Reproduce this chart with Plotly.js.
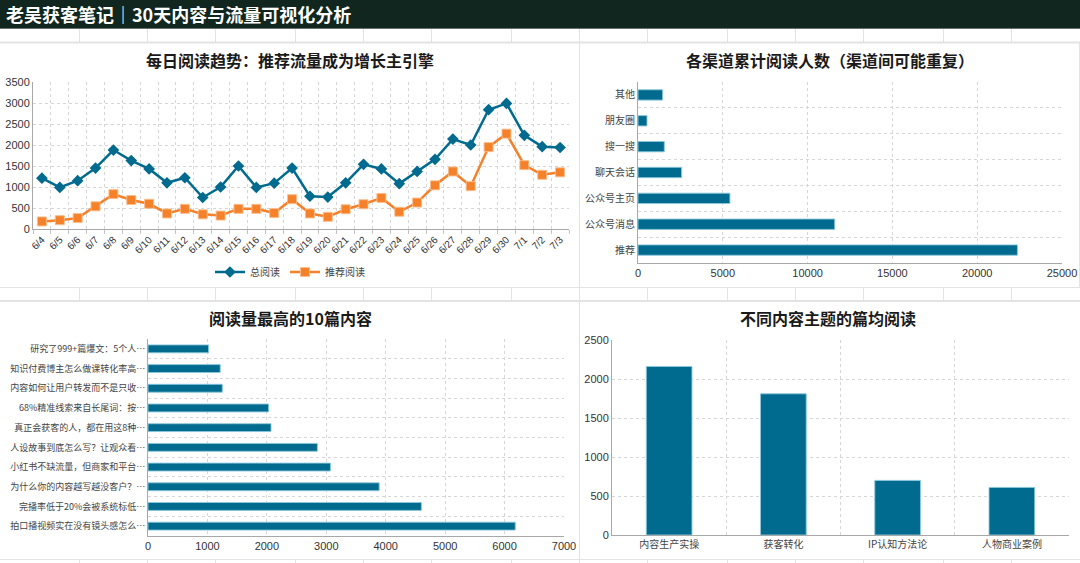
<!DOCTYPE html>
<html>
<head>
<meta charset="utf-8">
<script src="https://cdn.plot.ly/plotly-3.0.1.min.js"></script>
<style>
  html, body { margin: 0; padding: 0; background: #ffffff; }
  #chart { width: 1080px; height: 563px; }
</style>
</head>
<body>
<div id="chart"></div>
<script>
// ---- Data ----
const days = ['6/4','6/5','6/6','6/7','6/8','6/9','6/10','6/11','6/12','6/13','6/14','6/15','6/16','6/17','6/18',
              '6/19','6/20','6/21','6/22','6/23','6/24','6/25','6/26','6/27','6/28','6/29','6/30','7/1','7/2','7/3'];
const totalReads = [1210, 990, 1150, 1450, 1880, 1630, 1430, 1100, 1220, 750, 1000, 1500, 990, 1090, 1450,
                    780, 760, 1100, 1540, 1430, 1080, 1370, 1660, 2140, 2000, 2840, 2990, 2230, 1960, 1940];
const recReads = [180, 210, 260, 540, 830, 690, 600, 370, 480, 350, 320, 480, 480, 380, 710,
                  370, 290, 470, 590, 740, 410, 630, 1040, 1370, 1020, 1950, 2270, 1520, 1290, 1350];

const channels = ['推荐', '公众号消息', '公众号主页', '聊天会话', '搜一搜', '朋友圈', '其他'];
const channelReads = [22370, 11600, 5420, 2570, 1550, 530, 1450];

const articles = ['拍口播视频实在没有镜头感怎么…', '完播率低于20%会被系统标低…', '为什么你的内容越写越没客户？…',
                  '小红书不缺流量，但商家和平台…', '人设故事到底怎么写？让观众看…', '真正会获客的人，都在用这8种…',
                  '68%精准线索来自长尾词：按…', '内容如何让用户转发而不是只收…', '知识付费博主怎么做课转化率高…',
                  '研究了999+篇爆文：5个人…'];
const articleReads = [6180, 4600, 3890, 3070, 2850, 2070, 2030, 1250, 1215, 1020];

const topics = ['内容生产实操', '获客转化', 'IP认知方法论', '人物商业案例'];
const topicAvg = [2160, 1810, 700, 610];

// ---- Styling helpers ----
const W = 1080, H = 563;
const px = x => x / W;
const py = y => 1 - y / H;

const BLUE = '#006b8e';
const ORANGE = '#f5812b';
const GRID = '#d6d6d6';
const AXIS = '#a8a8a8';
const DASH = '3px,3px';
const FONT = 'Liberation Sans, Arial, Noto Sans CJK SC, sans-serif';
const CJK = 'Noto Sans CJK SC, Liberation Sans, sans-serif';

function valueAxis(extra) {
  return Object.assign({
    showgrid: true, gridcolor: GRID, griddash: DASH, gridwidth: 1,
    zeroline: false, showline: true, linecolor: AXIS, linewidth: 1,
    ticks: '', tickformat: 'd', exponentformat: 'none',
    tickfont: { family: FONT, size: 11, color: '#333' },
    fixedrange: true
  }, extra);
}
function categoryAxis(extra) {
  return Object.assign({
    type: 'category', tickson: 'boundaries',
    showgrid: true, gridcolor: GRID, griddash: DASH, gridwidth: 1,
    zeroline: false, showline: true, linecolor: AXIS, linewidth: 1,
    ticks: 'outside', ticklen: 4, tickcolor: '#c4c4c4',
    tickfont: { family: CJK, size: 10, color: '#444' },
    fixedrange: true
  }, extra);
}

const barLine = { color: 'rgba(140,200,220,0.9)', width: 1 };

// ---- Traces ----
const traces = [
  {
    type: 'scatter', mode: 'lines+markers', name: '总阅读',
    x: days, y: totalReads, xaxis: 'x', yaxis: 'y',
    line: { color: BLUE, width: 2.5 },
    marker: { symbol: 'diamond', size: 9, color: BLUE }
  },
  {
    type: 'scatter', mode: 'lines+markers', name: '推荐阅读',
    x: days, y: recReads, xaxis: 'x', yaxis: 'y',
    line: { color: ORANGE, width: 2.5 },
    marker: { symbol: 'square', size: 9, color: ORANGE, line: { color: 'rgba(250,190,140,0.9)', width: 1 } }
  },
  {
    type: 'bar', orientation: 'h', showlegend: false,
    x: channelReads, y: channels, xaxis: 'x2', yaxis: 'y2',
    marker: { color: BLUE, line: barLine }
  },
  {
    type: 'bar', orientation: 'h', showlegend: false,
    x: articleReads, y: articles, xaxis: 'x3', yaxis: 'y3',
    marker: { color: BLUE, line: barLine }
  },
  {
    type: 'bar', showlegend: false,
    x: topics, y: topicAvg, xaxis: 'x4', yaxis: 'y4',
    marker: { color: BLUE, line: barLine }
  }
];

// ---- Sheet backdrop: header bar, cell strips and panel dividers ----
const shapes = [];
shapes.push({ type: 'rect', xref: 'paper', yref: 'paper', x0: 0, x1: 1, y0: py(28), y1: 1,
              fillcolor: '#10261f', line: { width: 0 }, layer: 'below' });
shapes.push({ type: 'line', xref: 'paper', yref: 'paper', x0: 0, x1: 1, y0: py(28.5), y1: py(28.5),
              line: { color: '#66736e', width: 1 }, layer: 'below' });
const hLines = [[42.5, 2], [287.5, 1], [301, 2], [559.5, 1]];
hLines.forEach(([y, w]) => shapes.push({
  type: 'line', xref: 'paper', yref: 'paper', x0: 0, x1: 1, y0: py(y), y1: py(y),
  line: { color: '#e3e3e3', width: w }, layer: 'below'
}));
const cols = [79, 147, 215, 295, 363, 431, 511, 647, 727, 795, 863, 943, 1011];
const strips = [[29, 42], [288, 301], [560, 563]];
strips.forEach(([a, b]) => cols.forEach(c => shapes.push({
  type: 'line', xref: 'paper', yref: 'paper', x0: px(c + 0.5), x1: px(c + 0.5), y0: py(a), y1: py(b),
  line: { color: '#e3e3e3', width: 1 }, layer: 'below'
})));
shapes.push({ type: 'line', xref: 'paper', yref: 'paper', x0: px(579.5), x1: px(579.5), y0: py(29), y1: 0,
              line: { color: '#e3e3e3', width: 1 }, layer: 'below' });
shapes.push({ type: 'line', xref: 'paper', yref: 'paper', x0: px(1079.5), x1: px(1079.5), y0: py(43), y1: py(287),
              line: { color: '#e3e3e3', width: 1 }, layer: 'below' });

// ---- Titles ----
function title(text, x, y) {
  return { text: text, xref: 'paper', yref: 'paper', x: px(x), y: py(y),
           xanchor: 'center', yanchor: 'middle', showarrow: false,
           font: { family: CJK, size: 16, color: '#1a1a1a', weight: 'bold' } };
}
const annotations = [
  { text: '老吴获客笔记｜30天内容与流量可视化分析', xref: 'paper', yref: 'paper', x: px(4), y: py(14),
    xanchor: 'left', yanchor: 'middle', showarrow: false,
    font: { family: CJK, size: 18, color: '#ffffff', weight: 'bold' } },
  title('每日阅读趋势：推荐流量成为增长主引擎', 290, 60),
  title('各渠道累计阅读人数（渠道间可能重复）', 830, 60),
  title('阅读量最高的10篇内容', 290, 318),
  title('不同内容主题的篇均阅读', 828, 318)
];

// ---- Layout ----
const layout = {
  width: W, height: H,
  margin: { l: 0, r: 0, t: 0, b: 0 },
  paper_bgcolor: '#ffffff', plot_bgcolor: 'rgba(0,0,0,0)',
  bargap: 0.6,
  showlegend: true,
  legend: { orientation: 'h', x: px(290), y: py(272), xanchor: 'center', yanchor: 'middle',
            font: { family: CJK, size: 10, color: '#444' }, itemwidth: 30, tracegroupgap: 0 },
  xaxis: categoryAxis({ domain: [px(33), px(569)], anchor: 'y', range: [-0.5, 29.5], tickangle: -45,
                        tickfont: { family: FONT, size: 10, color: '#333' } }),
  yaxis: valueAxis({ domain: [py(229), py(82)], anchor: 'x', range: [0, 3500], dtick: 500 }),
  xaxis2: valueAxis({ domain: [px(638), px(1062)], anchor: 'y2', range: [0, 25000], dtick: 5000 }),
  yaxis2: categoryAxis({ domain: [py(263), py(82)], anchor: 'x2', ticks: '' }),
  xaxis3: valueAxis({ domain: [px(148), px(564)], anchor: 'y3', range: [0, 7000], dtick: 1000 }),
  yaxis3: categoryAxis({ domain: [py(536), py(339)], anchor: 'x3', ticks: '',
                         tickfont: { family: CJK, size: 9, color: '#444' } }),
  xaxis4: categoryAxis({ domain: [px(612), px(1069)], anchor: 'y4', ticks: '' }),
  yaxis4: valueAxis({ domain: [py(535), py(340)], anchor: 'x4', range: [0, 2500], dtick: 500 }),
  shapes: shapes,
  annotations: annotations,
  font: { family: CJK }
};

Plotly.newPlot('chart', traces, layout, { displayModeBar: false, staticPlot: true });
</script>
</body>
</html>
